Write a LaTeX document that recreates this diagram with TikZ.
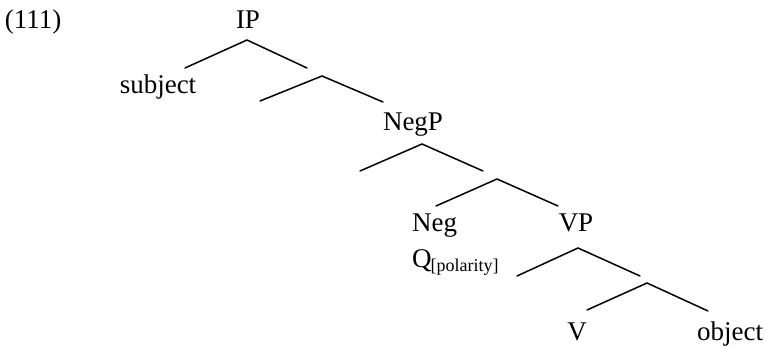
\documentclass[tikz,border=0pt]{standalone}
\usepackage{fontspec}
\setmainfont{Liberation Serif}
\begin{document}
\begin{tikzpicture}[x=1pt,y=-1pt,
  lbl/.style={anchor=base,inner sep=0pt,font=\fontsize{27}{32}\selectfont},
  branch/.style={line width=1.5pt,line cap=round}]
\useasboundingbox (0,0) rectangle (765,347);

% example number
\node[lbl] (num) at (33,29) {(111)};

% labelled nodes
\node[lbl] (ip) at (248,29) {IP};
\node[lbl] (subj) at (158,94) {subject};
\node[lbl] (negp) at (413,131) {NegP};
\node[lbl,anchor=base west] (neg) at (412,232) {Neg};
\node[lbl,anchor=base west] (q) at (412,267) {Q\kern-1pt\raisebox{-5pt}{\fontsize{18}{18}\selectfont[polarity]}};
\node[lbl] (vp) at (576,232) {VP};
\node[lbl] (v) at (577,340) {V};
\node[lbl] (obj) at (730,340) {object};

% branch points
\coordinate (b1t) at (247,40);  \coordinate (b1l) at (185,68);  \coordinate (b1r) at (307,68);
\coordinate (b2t) at (322,76);  \coordinate (b2l) at (260,101); \coordinate (b2r) at (383,102);
\coordinate (b3t) at (422,144); \coordinate (b3l) at (360,171); \coordinate (b3r) at (483,171);
\coordinate (b4t) at (497,179); \coordinate (b4l) at (436,206); \coordinate (b4r) at (558,206);
\coordinate (b5t) at (578,248); \coordinate (b5l) at (517,276); \coordinate (b5r) at (640,276);
\coordinate (b6t) at (647,283); \coordinate (b6l) at (587,310); \coordinate (b6r) at (708,311);

% branches
\foreach \i in {1,...,6}{
  \draw[branch] (b\i l) -- (b\i t) -- (b\i r);
}
\end{tikzpicture}
\end{document}
